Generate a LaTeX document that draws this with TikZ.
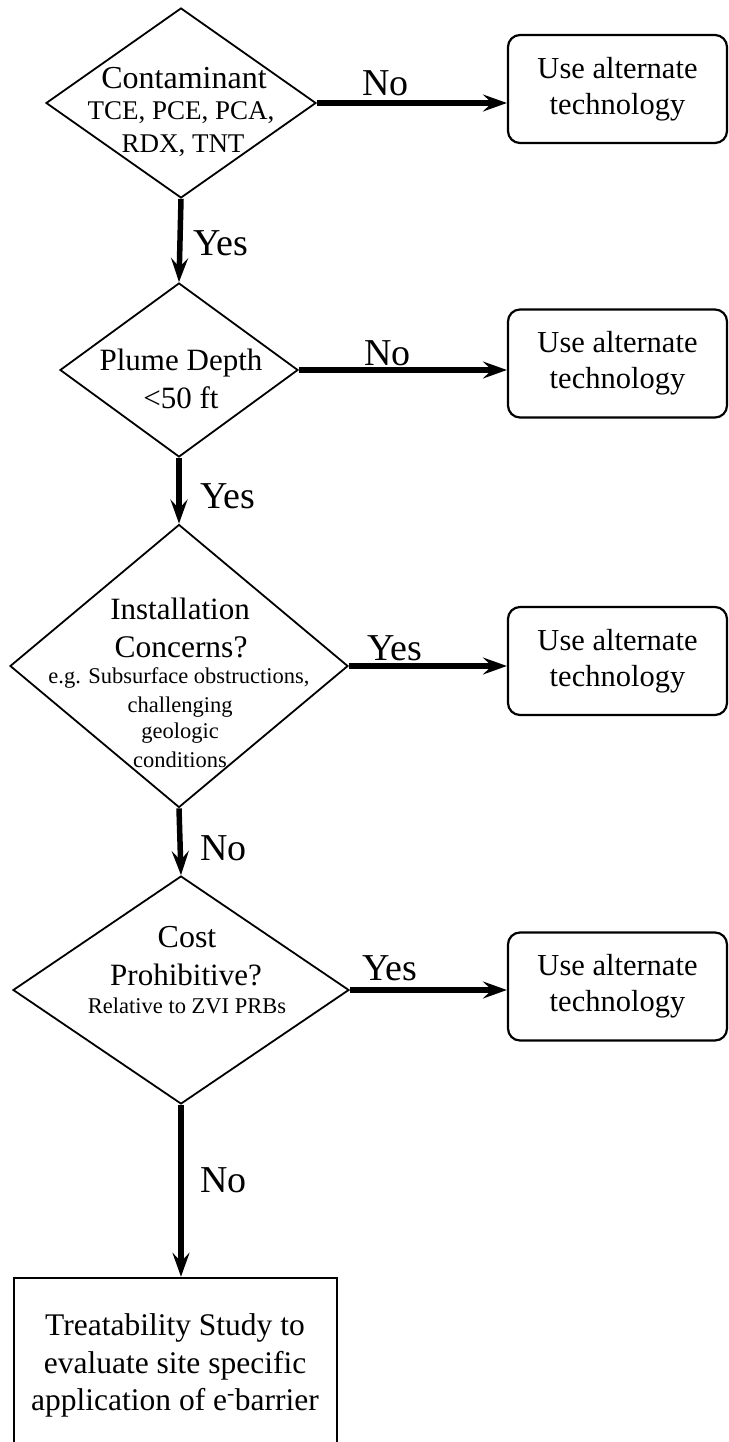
\documentclass[tikz,border=0pt]{standalone}
\usepackage{fontspec}
\setmainfont{Liberation Serif}
\usetikzlibrary{shapes.geometric,arrows.meta}

\newcommand\fsz[2]{\fontsize{#1}{#2}\selectfont}

\begin{document}
\begin{tikzpicture}[x=1pt,y=-1pt,
  decision/.style={diamond, draw, line width=1.8pt, inner sep=0pt},
  altbox/.style={draw, line width=2.2pt, rounded corners=12pt,
    minimum width=219pt, minimum height=108pt, inner sep=0pt,
    align=center, font=\fsz{30.5}{36}},
  endbox/.style={draw, line width=2.5pt, minimum width=323pt,
    minimum height=200pt, inner sep=0pt},
  flow/.style={line width=5.5pt,
    -{Stealth[length=24pt,width=17pt,inset=9pt]}},
  lbl/.style={anchor=base west, inner sep=0pt, font=\fsz{38}{44}},
  txt/.style={anchor=base, inner sep=0pt}
]
\useasboundingbox (0,0) rectangle (728,1442);
\clip (0,0) rectangle (728,1442);

% decision diamonds
\node[decision, minimum width=270pt, minimum height=190pt] (d1) at (181,103) {};
\node[decision, minimum width=238pt, minimum height=174pt] (d2) at (179,370) {};
\node[decision, minimum width=338pt, minimum height=283pt] (d3) at (179,666) {};
\node[decision, minimum width=336pt, minimum height=228pt] (d4) at (181,990) {};

% texts inside the diamonds
\node[txt, font=\fsz{32}{38}] (d1a) at (184,89)  {Contaminant};
\node[txt, font=\fsz{27}{32}] (d1b) at (181,120) {TCE, PCE, PCA,};
\node[txt, font=\fsz{27}{32}] (d1c) at (183,153) {RDX, TNT};

\node[txt, font=\fsz{31}{38}] (d2a) at (181,370) {Plume Depth};
\node[txt, font=\fsz{31}{38}] (d2b) at (181,408) {<50 ft};

\node[txt, font=\fsz{31}{38}] (d3a) at (180,619) {Installation};
\node[txt, font=\fsz{31.5}{38}] (d3b) at (181,657) {Concerns?};
\node[txt, font=\fsz{22.5}{27}] (d3c) at (179,683) {e.g. Subsurface obstructions,};
\node[txt, font=\fsz{22.5}{27}] (d3d) at (180,712) {challenging};
\node[txt, font=\fsz{22.5}{27}] (d3e) at (180,738) {geologic};
\node[txt, font=\fsz{22.5}{27}] (d3f) at (180,767) {conditions};

\node[txt, font=\fsz{32}{38}] (d4a) at (187,947) {Cost};
\node[txt, font=\fsz{31}{38}] (d4b) at (186,985) {Prohibitive?};
\node[txt, font=\fsz{22.5}{27}] (d4c) at (187,1013) {Relative to ZVI PRBs};

% outcome boxes
\node[altbox] (b1) at (617.5,89)    {Use alternate\\technology};
\node[altbox] (b2) at (617.5,363.5) {Use alternate\\technology};
\node[altbox] (b3) at (617.5,661)   {Use alternate\\technology};
\node[altbox] (b4) at (617.5,986.5) {Use alternate\\technology};

\node[endbox] (b5) at (175.5,1378) {};
\node[txt, font=\fsz{31.5}{38}] (b5a) at (175,1335) {Treatability Study to};
\node[txt, font=\fsz{31.5}{38}] (b5b) at (175,1373) {evaluate site specific};
\node[txt, font=\fsz{31.5}{38}] (b5c) at (175,1410) {application of e\textsuperscript{-}barrier};

% connectors
\draw[flow] (d1.east) -- (d1.east -| b1.west);
\draw[flow] (d2.east) -- (d2.east -| b2.west);
\draw[flow] (d3.east) -- (d3.east -| b3.west);
\draw[flow] (d4.east) -- (d4.east -| b4.west);
\draw[flow] (d1.south) -- (d2.north);
\draw[flow] (d2.south) -- (d3.north);
\draw[flow] (d3.south) -- (d4.north);
\draw[flow] (d4.south) -- (b5.north -| d4.south);

% branch labels
\node[lbl] (l1) at (362,96)   {No};
\node[lbl] (l2) at (193,255)  {Yes};
\node[lbl] (l3) at (364,365)  {No};
\node[lbl] (l4) at (200,508)  {Yes};
\node[lbl] (l5) at (367,660)  {Yes};
\node[lbl] (l6) at (200,860)  {No};
\node[lbl] (l7) at (362,980)  {Yes};
\node[lbl] (l8) at (200,1192) {No};
\end{tikzpicture}
\end{document}
